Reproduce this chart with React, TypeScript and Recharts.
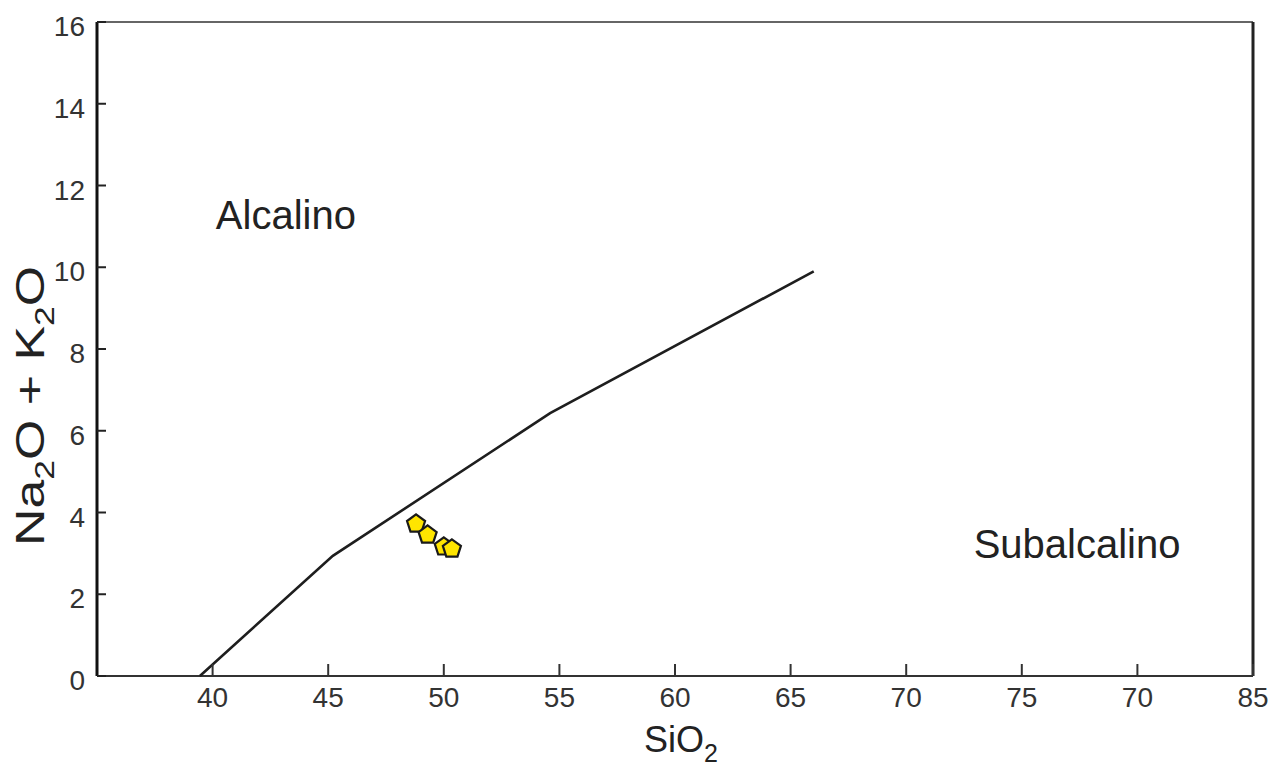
import React from "react";
import {
  ScatterChart,
  Scatter,
  XAxis,
  YAxis,
  ReferenceLine,
  ReferenceDot,
} from "recharts";

// Alkaline / subalkaline dividing line (SiO2 vs total alkalis)
const boundarySiO2 = [39.45, 45.2, 54.6, 66.0];
const boundaryAlkalis = [0, 2.94, 6.43, 9.9];

// analysed samples
const sampleSiO2 = [48.8, 49.3, 50.0, 50.35];
const sampleAlkalis = [3.72, 3.45, 3.16, 3.11];

const xTicks = [40, 45, 50, 55, 60, 65, 70, 75, 80, 85];
const xTickLabels = ["40", "45", "50", "55", "60", "65", "70", "75", "70", "85"];
const yTicks = [0, 2, 4, 6, 8, 10, 12, 14, 16];

const boundary = boundarySiO2.map((x, i) => ({ x, y: boundaryAlkalis[i] }));
const samples = sampleSiO2.map((x, i) => ({ x, y: sampleAlkalis[i] }));

const FONT = "'Liberation Sans', Arial, sans-serif";
const W = 1270;
const H = 761;

const XTick = (props: any) => {
  const { x, y, payload, index } = props;
  return (
    <g>
      <line x1={x} x2={x} y1={y} y2={y - 12} stroke="#333" strokeWidth={2} />
      <text x={x} y={y + 31} textAnchor="middle" fontSize={28} fill="#333" fontFamily={FONT}>
        {xTickLabels[index] ?? payload.value}
      </text>
    </g>
  );
};

const YTick = (props: any) => {
  const { x, y, payload } = props;
  return (
    <g>
      <line x1={x} x2={x + 9} y1={y} y2={y} stroke="#222" strokeWidth={2} />
      <text x={x - 12} y={y + 14} textAnchor="end" fontSize={28} fill="#333" fontFamily={FONT}>
        {payload.value}
      </text>
    </g>
  );
};

const Pentagon = (props: any) => {
  const { cx, cy } = props;
  const r = 9.5;
  const pts = [0, 1, 2, 3, 4]
    .map((k) => {
      const a = -Math.PI / 2 + (k * 2 * Math.PI) / 5;
      return `${cx + r * Math.cos(a)},${cy + r * Math.sin(a)}`;
    })
    .join(" ");
  return <polygon points={pts} fill="#ffe500" stroke="#1a1a1a" strokeWidth={2.2} />;
};

const NoDot = () => null;

export default function App() {
  return (
    <div style={{ position: "relative", width: W, height: H, background: "#fff" }}>
      <ScatterChart width={W} height={H} margin={{ top: 14, right: 25, left: 0, bottom: 0 }}>
        <XAxis
          type="number"
          dataKey="x"
          domain={[35, 85]}
          ticks={xTicks}
          interval={0}
          height={93}
          tickSize={0}
          tickMargin={0}
          tickLine={false}
          tick={<XTick />}
          axisLine={{ stroke: "#333", strokeWidth: 2 }}
        />
        <YAxis
          type="number"
          dataKey="y"
          domain={[0, 16]}
          ticks={yTicks}
          interval={0}
          width={89}
          tickSize={0}
          tickMargin={0}
          tickLine={false}
          tick={<YTick />}
          axisLine={{ stroke: "#111", strokeWidth: 3 }}
        />
        <ReferenceLine y={16} stroke="#666" strokeWidth={2} />
        <ReferenceLine x={85} stroke="#222" strokeWidth={3} />
        <Scatter
          data={boundary}
          line={{ stroke: "#1e1e1e", strokeWidth: 2.6 }}
          shape={<NoDot />}
          isAnimationActive={false}
        />
        <Scatter data={samples} shape={<Pentagon />} isAnimationActive={false} />
        <ReferenceDot
          x={43.17}
          y={11.28}
          r={0}
          label={{ value: "Alcalino", position: "center", fontSize: 40, fill: "#222", fontFamily: FONT }}
        />
        <ReferenceDot
          x={77.39}
          y={3.23}
          r={0}
          label={{ value: "Subalcalino", position: "center", fontSize: 40, fill: "#222", fontFamily: FONT }}
        />
      </ScatterChart>
      <svg
        width={W}
        height={H}
        style={{ position: "absolute", left: 0, top: 0, pointerEvents: "none", overflow: "visible" }}
        fontFamily={FONT}
        fill="#222"
      >
        <text x={673} y={744} textAnchor="middle" fontSize={36}>
          SiO<tspan fontSize={25} dy={10}>2</tspan>
        </text>
        <text
          x={36}
          y={398}
          textAnchor="middle"
          fontSize={41}
          textLength={280}
          lengthAdjust="spacingAndGlyphs"
          transform="rotate(-90 36 398)"
        >
          Na<tspan fontSize={28} dy={10}>2</tspan>
          <tspan dy={-10}>O + K</tspan>
          <tspan fontSize={28} dy={10}>2</tspan>
          <tspan dy={-10}>O</tspan>
        </text>
      </svg>
    </div>
  );
}
